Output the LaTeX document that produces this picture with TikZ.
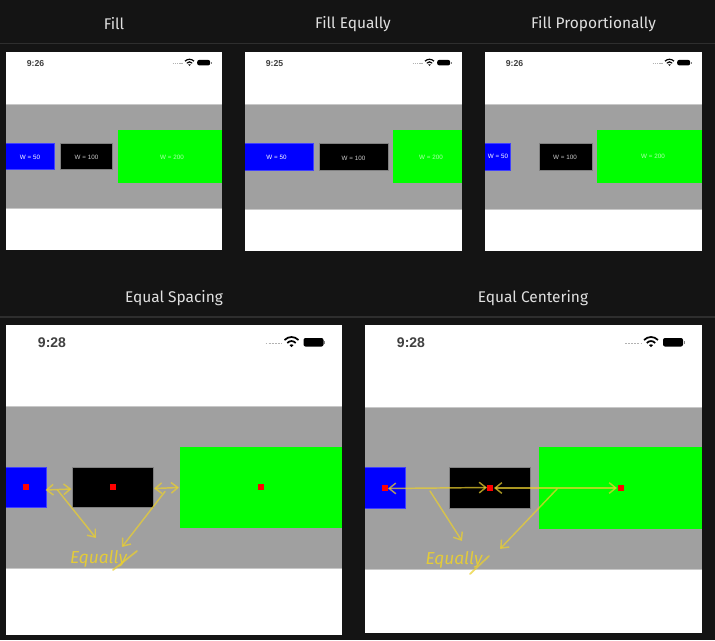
\documentclass[tikz,border=0pt]{standalone}
\usepackage{fontspec}
\setmainfont{Fira Sans}
\newfontfamily\statusfont{Liberation Sans}
\newfontfamily\handfont{Fira Sans}
\usetikzlibrary{arrows.meta}
\definecolor{bgdark}{HTML}{141414}
\definecolor{headline}{HTML}{2E2E2E}
\definecolor{titlegrey}{HTML}{E0E0E0}
\definecolor{bandgrey}{HTML}{A0A0A0}
\definecolor{bandedge}{HTML}{C8C8C8}
\definecolor{penyellow}{HTML}{EBD02E}
\definecolor{greenbar}{HTML}{00FF00}
\tikzset{
  x=0.75pt,y=-0.75pt,
  title/.style={text=titlegrey,font=\fontsize{11.6}{13}\selectfont,inner sep=0pt},
  head/.style={headline,line width=1.2pt},
  screen/.style={fill=white,draw=none},
  band/.style={fill=bandgrey,draw=none},
  bandline/.style={bandedge,line width=.7pt},
  bluefill/.style={fill=blue,draw=none},
  blueedge/.style={draw=blue!75!white,line width=.4pt},
  blackbar/.style={fill=black,draw=black!50!white,line width=.5pt},
  greenrect/.style={fill=greenbar,draw=none},
  wlabel/.style={font=\statusfont\fontsize{4.7}{5}\selectfont,inner sep=0pt},
  clock/.style={font=\statusfont\bfseries\fontsize{#1}{#1}\selectfont,text=black!75,inner sep=0pt},
  dot/.style={fill=red,draw=none},
  pen/.style={penyellow,opacity=.72,line width=1.1pt,line cap=round},
  penarrow/.style={pen,-{Straight Barb[length=5pt,width=8pt,line width=1.1pt]}},
  pentwo/.style={pen,{Straight Barb[length=5pt,width=8pt,line width=1.1pt]}-{Straight Barb[length=5pt,width=8pt,line width=1.1pt]}},
  handtext/.style={text=penyellow,opacity=.9,inner sep=0pt,font=\handfont\itshape\fontsize{13}{13}\selectfont},
  pics/status/.style={code={
    \draw[black!30,line width=#1*.9,dash pattern=on #1*1.1 off #1*.7] (-26,1.5) -- (-10,1.5);
    \draw[black,line width=#1] (-7,-2) .. controls (-3,-6) and (3,-6) .. (7,-2);
    \draw[black,line width=#1] (-4.2,1) .. controls (-2,-1.6) and (2,-1.6) .. (4.2,1);
    \fill[black] (-2,3) .. controls (-1,2) and (1,2) .. (2,3) -- (0,5.2) -- cycle;
    \fill[black,rounded corners=1.5] (12,-4) rectangle (32,4.5);
    \fill[black!50] (32.6,-1.5) rectangle (33.8,2);
  }}
}
\begin{document}
\begin{tikzpicture}
\useasboundingbox[fill=bgdark] (0,0) rectangle (715,640);
% headers
\node[title] (tfill) at (114,24) {Fill};
\node[title] (tequally) at (353,24) {Fill Equally};
\node[title] (tprop) at (593.5,24) {Fill Proportionally};
\draw[head] (0,43.5) -- (715,43.5);
\node[title] (tspacing) at (174,298) {Equal Spacing};
\node[title] (tcenter) at (533,298) {Equal Centering};
\draw[head] (0,317) -- (715,317);

% Fill
\fill[screen] (6,52) rectangle (222,250);
\path[band] (6,104) rectangle (222,208);
\draw[bandline] (6,104) -- (222,104);
\draw[bandline] (6,208) -- (222,208);
\path[bluefill] (6,143) rectangle (54.5,169);
\path[blueedge] (6,143) -- (54.5,143) -- (54.5,169) -- (6,169);
\path[blackbar] (60,143) rectangle (112.5,169);
\path[greenrect] (117.5,130) rectangle (222,183);
\node[wlabel,text=white] (a1) at (30,157.5) {W = 50};
\node[wlabel,text=black!20] (a2) at (86.5,157.5) {W = 100};
\node[wlabel,text=green!30!white] (a3) at (172,157) {W = 200};
\node[clock=6.5] (ca) at (35.5,63.5) {9:26};
\pic[scale=.645] at (189.5,62.5) {status=.9pt};

% Fill Equally
\fill[screen] (245,52) rectangle (462,250.5);
\path[band] (245,104.5) rectangle (462,209);
\draw[bandline] (245,104.5) -- (462,104.5);
\draw[bandline] (245,209) -- (462,209);
\path[bluefill] (245,143.5) rectangle (313.5,170);
\path[blueedge] (245,143.5) -- (313.5,143.5) -- (313.5,170) -- (245,170);
\path[blackbar] (319,143.5) rectangle (388,170);
\path[greenrect] (393,130) rectangle (462,183);
\node[wlabel,text=white] (b1) at (276.5,157.5) {W = 50};
\node[wlabel,text=black!20] (b2) at (353.5,158) {W = 100};
\node[wlabel,text=green!30!white] (b3) at (431,157) {W = 200};
\node[clock=6.5] (cb) at (274.5,63.5) {9:25};
\pic[scale=.645] at (429.5,62.5) {status=.9pt};

% Fill Proportionally
\fill[screen] (485,52) rectangle (702,250.5);
\path[band] (485,104.5) rectangle (702,209);
\draw[bandline] (485,104.5) -- (702,104.5);
\draw[bandline] (485,209) -- (702,209);
\path[bluefill] (485,143.5) rectangle (510.5,170);
\path[blueedge] (485,143.5) -- (510.5,143.5) -- (510.5,170) -- (485,170);
\path[blackbar] (539.5,143.5) rectangle (592,170);
\path[greenrect] (597,130) rectangle (702,183);
\node[wlabel,text=white] (c1) at (498,156.5) {W = 50};
\node[wlabel,text=black!20] (c2) at (565,157) {W = 100};
\node[wlabel,text=green!30!white] (c3) at (653,156) {W = 200};
\node[clock=6.5] (cc) at (514.5,63.5) {9:26};
\pic[scale=.645] at (669.5,62.5) {status=.9pt};

% Equal Spacing
\fill[screen] (6,325) rectangle (342,635);
\path[band] (6,406) rectangle (342,568);
\draw[bandline] (6,406) -- (342,406);
\draw[bandline] (6,568) -- (342,568);
\path[bluefill] (6,467) rectangle (46,507);
\path[blueedge] (6,467) -- (46,467) -- (46,507) -- (6,507);
\path[blackbar] (72.5,467) rectangle (153.5,507);
\path[greenrect] (179.5,447) rectangle (342,528);
\fill[dot] (23.2,484.2) rectangle (29.2,490.2);
\fill[dot] (110.2,484.2) rectangle (116.2,490.2);
\fill[dot] (258.2,484.2) rectangle (264.2,490.2);
\node[clock=10.5] (cd) at (52,343) {9:28};
\pic at (291.5,342) {status=1.3pt};
\coordinate (s1) at (45.5,490);
\coordinate (s2) at (71.5,489);
\coordinate (s3) at (154,488.5);
\coordinate (s4) at (179,487.5);
\coordinate (s5) at (57.5,490);
\coordinate (s6) at (96,538);
\coordinate (s7) at (165,491.5);
\coordinate (s8) at (122,547);
\draw[pentwo] (s1) -- (s2);
\draw[pentwo] (s3) -- (s4);
\draw[penarrow] (s5) -- (s6);
\draw[penarrow] (s7) -- (s8);
\node[handtext] (hs) at (98.5,559) {Equally};
\coordinate (st1) at (113,570);
\coordinate (st2) at (137,551);
\draw[pen,line width=1.3pt] (st1) -- (st2);

% Equal Centering
\fill[screen] (365,325) rectangle (702,633);
\path[band] (365,407) rectangle (702,569);
\draw[bandline] (365,407) -- (702,407);
\draw[bandline] (365,569) -- (702,569);
\path[bluefill] (365,467.5) rectangle (405,508);
\path[blueedge] (365,467.5) -- (405,467.5) -- (405,508) -- (365,508);
\path[blackbar] (449.5,467.5) rectangle (530.5,508);
\path[greenrect] (539,447) rectangle (702,528.5);
\fill[dot] (382.2,485) rectangle (388.2,491);
\fill[dot] (487.3,485) rectangle (493.3,491);
\fill[dot] (618.2,485) rectangle (624.2,491);
\node[clock=10.5] (ce) at (411,343) {9:28};
\pic at (651,342) {status=1.3pt};
\coordinate (e1) at (388,488.5);
\coordinate (e2) at (487,487.5);
\coordinate (e3) at (494,488);
\coordinate (e4) at (617,488);
\coordinate (e5) at (430,491);
\coordinate (e6) at (462,541);
\coordinate (e7) at (557,489);
\coordinate (e8) at (500,549);
\draw[pentwo] (e1) -- (e2);
\draw[pentwo] (e3) -- (e4);
\draw[penarrow] (e5) -- (e6);
\draw[penarrow] (e7) -- (e8);
\node[handtext] (he) at (454,560) {Equally};
\coordinate (et1) at (470,574);
\coordinate (et2) at (489,556);
\draw[pen,line width=1.3pt] (et1) -- (et2);
\end{tikzpicture}
\end{document}
